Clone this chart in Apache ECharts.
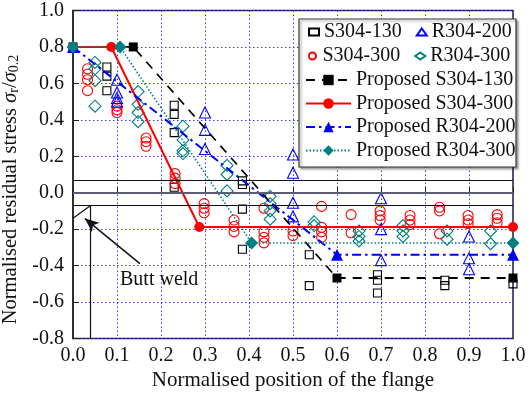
<!DOCTYPE html>
<html><head><meta charset="utf-8">
<script src="https://cdn.jsdelivr.net/npm/echarts@6/dist/echarts.min.js"></script>
<style>html,body{margin:0;padding:0;background:#fff}#c{width:529px;height:396px}</style>
</head><body><div id="c"></div>
<script>
// ---- data ----
const s130X = [0.077, 0.23, 0.385, 0.537, 0.692, 0.845, 1.0];
const s130Y = [[0.69,0.64,0.56],[0.48,0.43,0.33,0.03],[0.065,0.045,-0.09,-0.31],[-0.34,-0.51],[-0.45,-0.48,-0.55],[-0.48,-0.51],[-0.50]];
const s300X = [0.033, 0.1, 0.166, 0.232, 0.298, 0.366, 0.434, 0.5, 0.565, 0.632, 0.698, 0.766, 0.833, 0.898, 0.964];
const s300Y = [[0.68,0.65,0.62,0.56],[0.475,0.455,0.44],[0.30,0.28,0.255],[0.105,0.08,0.05],[-0.06,-0.085,-0.11],[-0.15,-0.185,-0.215],[-0.085,-0.215,-0.245,-0.275],[-0.21,-0.235],[-0.075,-0.19,-0.215,-0.245],[-0.12,-0.22],[-0.10,-0.125,-0.15],[-0.125,-0.15,-0.175],[-0.08,-0.10,-0.225],[-0.125,-0.15,-0.17],[-0.12,-0.14,-0.165]];
const r200X = [0.1, 0.3, 0.5, 0.7, 0.9];
const r200Y = [[0.62,0.55,0.52,0.50],[0.44,0.345,0.24],[0.21,0.11,-0.055,-0.13],[-0.03,-0.2,-0.37],[-0.24,-0.36,-0.42]];
const r300X = [0.05, 0.148, 0.25, 0.35, 0.448, 0.548, 0.65, 0.75, 0.85, 0.949];
const r300Y = [[0.715,0.68,0.615,0.475],[0.555,0.485,0.44,0.39],[0.365,0.29,0.23,0.215],[0.15,0.10,0.01],[-0.02,-0.06,-0.10,-0.145],[-0.16,-0.18],[-0.21,-0.24,-0.265],[-0.18,-0.21,-0.24],[-0.21,-0.255],[-0.21,-0.28]];

const pS130X = [0, 0.137, 0.6, 1.0], pS130Y = [0.8, 0.8, -0.468, -0.468];
const pS300X = [0, 0.087, 0.287, 1.0], pS300Y = [0.8, 0.8, -0.188, -0.188];
const pR200X = [0, 0.6, 1.0],         pR200Y = [0.8, -0.34, -0.34];
const pR300X = [0, 0.107, 0.406, 1.0], pR300Y = [0.8, 0.8, -0.276, -0.276];

const refLinesY = [0.07, -0.07];
const zeroLineY = 0;
const weldVert = [[0.04, -0.07], [0.04, -0.8]];
const weldDiag = [[0, -0.14], [0.04, -0.07]];
const weldArrow = [[0.152, -0.389], [0.027, -0.142]];

const xMin = 0, xMax = 1.0, xStep = 0.1;
const yMin = -0.8, yMax = 1.0, yStep = 0.2;

// ---- build ----
function groups(xs, ys){ const out=[]; xs.forEach((x,i)=>ys[i].forEach(y=>out.push([x,y]))); return out; }
function pairs(xs, ys){ return xs.map((x,i)=>[x, ys[i]]); }

const FONT = 'Liberation Serif';
const chart = echarts.init(document.getElementById('c'), null, {renderer:'canvas'});

function openScatter(name, data, symbol, size, color){
  return {name, type:'scatter', data, symbol, symbolSize:size, z:3,
    itemStyle:{color:'rgba(255,255,255,0)', opacity:1, borderColor:color, borderWidth:1.1}};
}
function propLine(name, data, symbol, size, color, type, width){
  return {name, type:'line', data, symbol, symbolSize:size, showSymbol:true, z:4,
    itemStyle:{color}, lineStyle:{color, type, width}};
}
const legText = {fontSize:20, fontFamily:FONT, color:'#111'};

const option = {
  animation:false,
  textStyle:{fontFamily:FONT},
  grid:{left:73, right:16, top:10.5, bottom:57.5, show:true, borderColor:'#222', borderWidth:1.5,
    containLabel:false, outerBoundsMode:'none'},
  xAxis:{type:'value', min:xMin, max:xMax, interval:xStep,
    name:'Normalised position of the flange', nameLocation:'middle', nameGap:28,
    nameTextStyle:{fontSize:21, color:'#111', fontFamily:FONT},
    axisLine:{lineStyle:{color:'#222', width:1.5}},
    axisTick:{inside:true, length:6, lineStyle:{color:'#222'}},
    axisLabel:{fontSize:20, color:'#111', fontFamily:FONT, margin:7, formatter:v=>v.toFixed(1)},
    splitLine:{show:true, lineStyle:{color:'#3838ff', type:[1.5,2.5], width:1}}},
  yAxis:{type:'value', min:yMin, max:yMax, interval:yStep,
    name:'Normalised residual stress {i|σ}{s|r}/{i|σ}{s|0.2}', nameLocation:'middle', nameGap:38,
    nameTextStyle:{fontSize:20.5, color:'#111', fontFamily:FONT, padding:[0,30,0,0],
      rich:{i:{fontSize:20.5, fontStyle:'italic', fontFamily:FONT, color:'#111'},
            s:{fontSize:14, fontFamily:FONT, color:'#111', verticalAlign:'bottom', padding:[8,0,0,0]}}},
    axisLine:{lineStyle:{color:'#222', width:1.5}},
    axisTick:{inside:true, length:6, lineStyle:{color:'#222'}},
    axisLabel:{fontSize:20, color:'#111', fontFamily:FONT, margin:9, formatter:v=>v.toFixed(1)},
    splitLine:{show:true, lineStyle:{color:'#3838ff', type:[1.5,2.5], width:1}}},
  legend:[
    {data:['S304-130','R304-200'], left:308, top:22, padding:0, itemGap:14, itemWidth:10, itemHeight:7, z:10, textStyle:legText},
    {data:['S304-300','R304-300'], left:308, top:46, padding:0, itemGap:14, itemWidth:10, itemHeight:7, z:10, textStyle:legText},
    {data:['Proposed S304-130','Proposed S304-300','Proposed R304-200','Proposed R304-300'],
      orient:'vertical', left:305, top:70, padding:0, itemGap:3.5, itemWidth:45, itemHeight:13, z:10, textStyle:legText}
  ],
  graphic:[
    {type:'rect', z:8, shape:{x:299, y:19, width:217, height:148},
      style:{fill:'#fff', stroke:'#333', lineWidth:1.2, shadowBlur:2, shadowOffsetX:2, shadowOffsetY:2, shadowColor:'rgba(0,0,0,0.35)'}},
    {type:'text', z:8, style:{text:'Butt weld', x:120, y:280, verticalAlign:'middle', font:'20px "Liberation Serif"', fill:'#111'}}
  ],
  series:[
    {name:'annot', type:'line', data:[], silent:true, z:2,
      markLine:{silent:true, symbol:'none', label:{show:false}, animation:false,
        data:[
          {yAxis:refLinesY[0], lineStyle:{color:'#111', width:1.2, type:'solid'}},
          {yAxis:refLinesY[1], lineStyle:{color:'#111', width:1.2, type:'solid'}},
          {yAxis:zeroLineY, lineStyle:{color:'#5c5c72', width:2.2, type:'solid'}},
          [{coord:weldVert[0], lineStyle:{color:'#111', width:1.2, type:'solid'}},{coord:weldVert[1]}],
          [{coord:weldDiag[0], lineStyle:{color:'#111', width:1.2, type:'solid'}},{coord:weldDiag[1]}],
          [{coord:weldArrow[0], symbol:'none', lineStyle:{color:'#111', width:1.5, type:'solid'}},{coord:weldArrow[1], symbol:'arrow', symbolSize:[9,14]}]
        ]}},
    openScatter('S304-130', groups(s130X, s130Y), 'rect', 8, '#000'),
    openScatter('S304-300', groups(s300X, s300Y), 'circle', 10, '#ff0000'),
    openScatter('R304-200', groups(r200X, r200Y), 'triangle', 11, '#0000ff'),
    openScatter('R304-300', groups(r300X, r300Y), 'diamond', 12, '#008080'),
    propLine('Proposed S304-130', pairs(pS130X, pS130Y), 'rect', 9, '#000', [9,7], 1.8),
    propLine('Proposed S304-300', pairs(pS300X, pS300Y), 'circle', 10, '#ff0000', 'solid', 2),
    propLine('Proposed R304-200', pairs(pR200X, pR200Y), 'triangle', 12, '#0000ff', [9,4,2.5,4], 2),
    propLine('Proposed R304-300', pairs(pR300X, pR300Y), 'diamond', 13, '#008080', [1.5,2], 1.6)
  ]
};
chart.setOption(option);
</script></body></html>
